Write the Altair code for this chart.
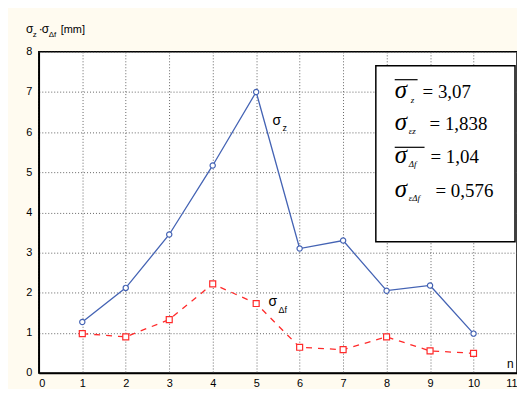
import altair as alt
import pandas as pd

# ---- data ----
n_vals = [1, 2, 3, 4, 5, 6, 7, 8, 9, 10]
sigma_z = [1.27, 2.12, 3.45, 5.17, 7.0, 3.1, 3.3, 2.05, 2.18, 0.98]
sigma_df = [0.98, 0.9, 1.33, 2.22, 1.73, 0.64, 0.58, 0.9, 0.55, 0.49]
x_ticks = list(range(0, 12))
y_ticks = list(range(0, 9))

df = pd.DataFrame({"n": n_vals, "sz": sigma_z, "sdf": sigma_df})
one = pd.DataFrame({"a": [0]})

BLUE = "#4463b4"
RED = "#ff2a2a"
SANS = "Liberation Sans"
SERIF = "Liberation Serif"

xs = alt.Scale(domain=[0, 11], nice=False)
ys = alt.Scale(domain=[0, 8], nice=False)

xax = alt.Axis(values=x_ticks, title=None, grid=True, ticks=False, labelPadding=5,
               gridDash=[1, 2], gridColor="#666", domainColor="black", domainWidth=1.5,
               labelFont=SANS, labelFontSize=11, labelColor="black")
yax = alt.Axis(values=y_ticks, title=None, grid=True, ticks=False, labelPadding=7,
               gridDash=[1, 2], gridColor="#666", domainColor="black", domainWidth=1.5,
               labelFont=SANS, labelFontSize=11, labelColor="black")

base = alt.Chart(df)

line_z = base.mark_line(color=BLUE, strokeWidth=1.3).encode(
    x=alt.X("n:Q", scale=xs, axis=xax), y=alt.Y("sz:Q", scale=ys, axis=yax))
pts_z = base.mark_point(shape="circle", filled=True, fill="white", stroke=BLUE,
                        strokeWidth=1.2, size=28, opacity=1).encode(
    x=alt.X("n:Q", scale=xs), y=alt.Y("sz:Q", scale=ys))
line_df = base.mark_line(color=RED, strokeWidth=1.3, strokeDash=[6, 6]).encode(
    x=alt.X("n:Q", scale=xs), y=alt.Y("sdf:Q", scale=ys))
pts_df = base.mark_point(shape="square", filled=True, fill="white", stroke=RED,
                         strokeWidth=1.2, size=36, opacity=1).encode(
    x=alt.X("n:Q", scale=xs), y=alt.Y("sdf:Q", scale=ys))


def txt(t, x, y, size=11, font=SANS, style="normal", color="black", align="left"):
    return alt.Chart(one).mark_text(text=t, font=font, fontSize=size, fontStyle=style,
                                    color=color, align=align, baseline="alphabetic").encode(
        x=alt.value(x), y=alt.value(y))


def rule(x1, x2, y, w=1.2):
    return alt.Chart(one).mark_rule(color="black", strokeWidth=w).encode(
        x=alt.value(x1), x2=alt.value(x2), y=alt.value(y))


# stats box (pixel positions relative to plot area)
box = alt.Chart(one).mark_rect(fill="white", stroke="black", strokeWidth=1.5).encode(
    x=alt.value(339), x2=alt.value(479), y=alt.value(14), y2=alt.value(191))

BIG = 19
SIG = 25
SUB = 9
layers = [line_z, line_df, pts_z, pts_df, box,
          # line 1
          rule(358, 381, 28), txt("σ", 358, 46, SIG, SERIF, "italic"),
          txt("z", 374, 51, SUB, SERIF, "italic"), txt("= 3,07", 386, 46, BIG, SERIF),
          # line 2
          txt("σ", 358, 79, SIG, SERIF, "italic"),
          txt("εz", 372, 83, SUB, SERIF, "italic"), txt("= 1,838", 393, 79, BIG, SERIF),
          # line 3
          rule(358, 388, 96), txt("σ", 358, 112, SIG, SERIF, "italic"),
          txt("Δf", 372, 116, SUB, SERIF, "italic"), txt("= 1,04", 394, 112, BIG, SERIF),
          # line 4
          txt("σ", 358, 146, SIG, SERIF, "italic"),
          txt("εΔf", 372, 150, SUB, SERIF, "italic"), txt("= 0,576", 399, 146, BIG, SERIF),
          # y title
          txt("σ", -13, -19, 12), txt("z", -6, -15, 8), txt("·", 0, -19, 12),
          txt("σ", 3, -19, 12), txt("Δf", 10, -15, 8), txt("[mm]", 22, -19, 11),
          # series labels
          txt("σ", 235, 74, 14), txt("z", 245, 80, 9),
          txt("σ", 231, 256, 14), txt("Δf", 241, 263, 9),
          txt("n", 471, 318, 12),
          ]

chart = alt.layer(*layers).properties(
    width=481, height=323,
    autosize=alt.AutoSizeParams(type="none"),
    padding={"left": 31, "top": 43, "right": 0, "bottom": 15},
    background="#fffbf0",
).configure_view(fill="white", stroke="black", strokeWidth=1.5)

chart.save("out.html", embed_options={"renderer": "svg", "actions": False})
